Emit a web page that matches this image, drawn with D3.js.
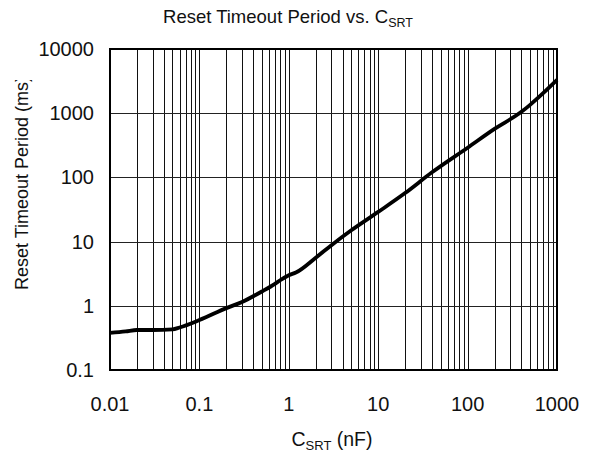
<!DOCTYPE html>
<html>
<head>
<meta charset="utf-8">
<script src="https://cdn.jsdelivr.net/npm/d3@7"></script>
<style>
  body { margin: 0; background: #fff; }
  text { font-family: Arial, "Liberation Sans", sans-serif; fill: #111; }
</style>
</head>
<body>
<div id="chart"></div>
<script>
// curve: C_SRT (nF) vs reset timeout (ms)
var capNF = [0.01, 0.015, 0.02, 0.03, 0.05, 0.06, 0.1, 0.2, 0.3, 0.5, 0.7, 0.8, 1, 1.2, 2, 3, 5, 10, 20, 40, 100, 200, 400, 500, 700, 1000];
var timeoutMs = [0.38, 0.40, 0.42, 0.42, 0.43, 0.46, 0.6, 0.92, 1.15, 1.67, 2.2, 2.5, 3.0, 3.3, 5.6, 8.8, 15, 29, 57, 120, 290, 570, 1050, 1350, 2050, 3300];
var xTicks = [0.01, 0.1, 1, 10, 100, 1000];
var yTicks = [0.1, 1, 10, 100, 1000, 10000];

var width = 592, height = 459;
var m = {left: 110, right: 557, top: 49, bottom: 370};

var svg = d3.select("#chart").append("svg")
  .attr("width", width)
  .attr("height", height);

svg.append("rect").attr("width", width).attr("height", height).attr("fill", "#fff");

var x = d3.scaleLog().domain([0.01, 1000]).range([m.left, m.right]);
var y = d3.scaleLog().domain([0.1, 10000]).range([m.bottom, m.top]);

// vertical grid: every 1..9 in each decade
var minor = [];
xTicks.slice(0, -1).forEach(function(d) {
  for (var k = 1; k < 10; k++) minor.push(d * k);
});
minor.push(1000);

svg.append("g").selectAll("line").data(minor).enter().append("line")
  .attr("x1", function(d) { return Math.round(x(d)) + 0.5; })
  .attr("x2", function(d) { return Math.round(x(d)) + 0.5; })
  .attr("y1", m.top).attr("y2", m.bottom)
  .attr("stroke", "#111").attr("stroke-width", 1);

svg.append("g").selectAll("line").data(yTicks).enter().append("line")
  .attr("x1", m.left).attr("x2", m.right)
  .attr("y1", function(d) { return Math.round(y(d)) + 0.5; })
  .attr("y2", function(d) { return Math.round(y(d)) + 0.5; })
  .attr("stroke", "#222").attr("stroke-width", 1);

// frame
svg.append("rect")
  .attr("x", m.left).attr("y", m.top)
  .attr("width", m.right - m.left).attr("height", m.bottom - m.top)
  .attr("fill", "none").attr("stroke", "#000").attr("stroke-width", 2);

// curve
var pts = capNF.map(function(c, i) { return [c, timeoutMs[i]]; });
svg.append("path")
  .datum(pts)
  .attr("fill", "none")
  .attr("stroke", "#000")
  .attr("stroke-width", 3.8)
  .attr("stroke-linejoin", "round")
  .attr("d", d3.line().x(function(d) { return x(d[0]); }).y(function(d) { return y(d[1]); }).curve(d3.curveMonotoneX));

// tick labels
svg.append("g").selectAll("text").data(xTicks).enter().append("text")
  .attr("x", function(d) { return x(d); })
  .attr("y", 411)
  .attr("text-anchor", "middle")
  .attr("font-size", 20)
  .text(function(d) { return d; });

svg.append("g").selectAll("text").data(yTicks).enter().append("text")
  .attr("x", 94)
  .attr("y", function(d) { return y(d) + 7; })
  .attr("text-anchor", "end")
  .attr("font-size", 20)
  .text(function(d) { return d; });

// title
var t = svg.append("text").attr("x", 288).attr("y", 22.5).attr("text-anchor", "middle").attr("font-size", 18.5);
t.append("tspan").text("Reset Timeout Period vs. C");
t.append("tspan").attr("font-size", 12.5).attr("dy", 4).text("SRT");

// x title
var xt = svg.append("text").attr("x", 332).attr("y", 446).attr("text-anchor", "middle").attr("font-size", 19.5);
xt.append("tspan").text("C");
xt.append("tspan").attr("font-size", 13).attr("dy", 4).text("SRT");
xt.append("tspan").attr("dy", -4).text(" (nF)");

// y title, clipped at the top like the original text box
svg.append("clipPath").attr("id", "yclip")
  .append("rect").attr("x", 0).attr("y", 80).attr("width", 60).attr("height", 300);
svg.append("g").attr("clip-path", "url(#yclip)")
  .append("text")
  .attr("transform", "translate(28,290) rotate(-90)")
  .attr("text-anchor", "start")
  .attr("font-size", 18)
  .text("Reset Timeout Period (ms)");
</script>
</body>
</html>
